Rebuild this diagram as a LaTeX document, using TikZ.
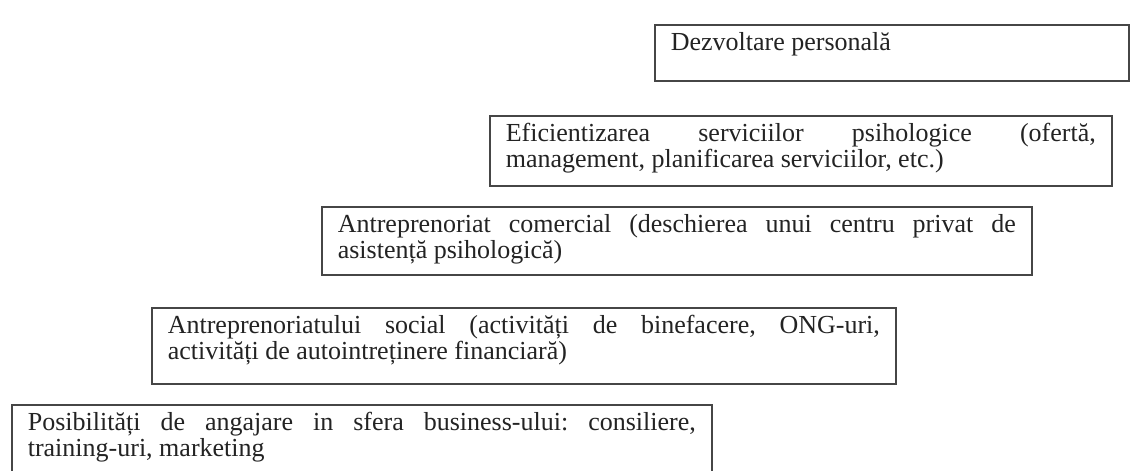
\documentclass[tikz,border=0pt]{standalone}
\usepackage{fontspec}
\setmainfont{Liberation Serif}
\usepackage{tikz}
\usetikzlibrary{positioning}
\usepackage{xcolor}
\definecolor{framegray}{RGB}{70,70,70}
\definecolor{textgray}{RGB}{35,35,35}
\newcommand{\boxfont}{\fontsize{13}{13}\selectfont\frenchspacing\tolerance=10000\hyphenpenalty=10000\exhyphenpenalty=10000}
\tikzset{stepbox/.style={draw=framegray, line width=0.8pt, anchor=north west, align=justify,
    inner xsep=8pt, inner ysep=4pt, text height=9pt, text=textgray, font=\boxfont}}

\begin{document}
\begin{tikzpicture}[x=0.5pt, y=-0.5pt]
    \path[use as bounding box, fill=white] (0,0) rectangle (1130,471);
    \clip (0,0) rectangle (1130,471);

    \node[stepbox, text width=221pt, text depth=11pt] (dev) at (654,24) {Dezvoltare personală};
    \node[stepbox, text width=295pt, text depth=18pt] (eff) at (489,115)
        {Eficientizarea serviciilor psihologice (ofertă,\linebreak management, planificarea serviciilor, etc.)};
    \node[stepbox, text width=339pt, text depth=17pt] (comm) at (321,206)
        {Antreprenoriat comercial (deschierea unui centru privat de\linebreak asistență psihologică)};
    \node[stepbox, text width=356pt, text depth=21pt] (social) at (151,307)
        {Antreprenoriatului social (activități de binefacere, ONG-uri,\linebreak activități de autointreținere financiară)};
    \node[stepbox, text width=334pt, text depth=30pt] (jobs) at (11,404)
        {Posibilități de angajare in sfera business-ului: consiliere,\linebreak training-uri, marketing};
\end{tikzpicture}
\end{document}
